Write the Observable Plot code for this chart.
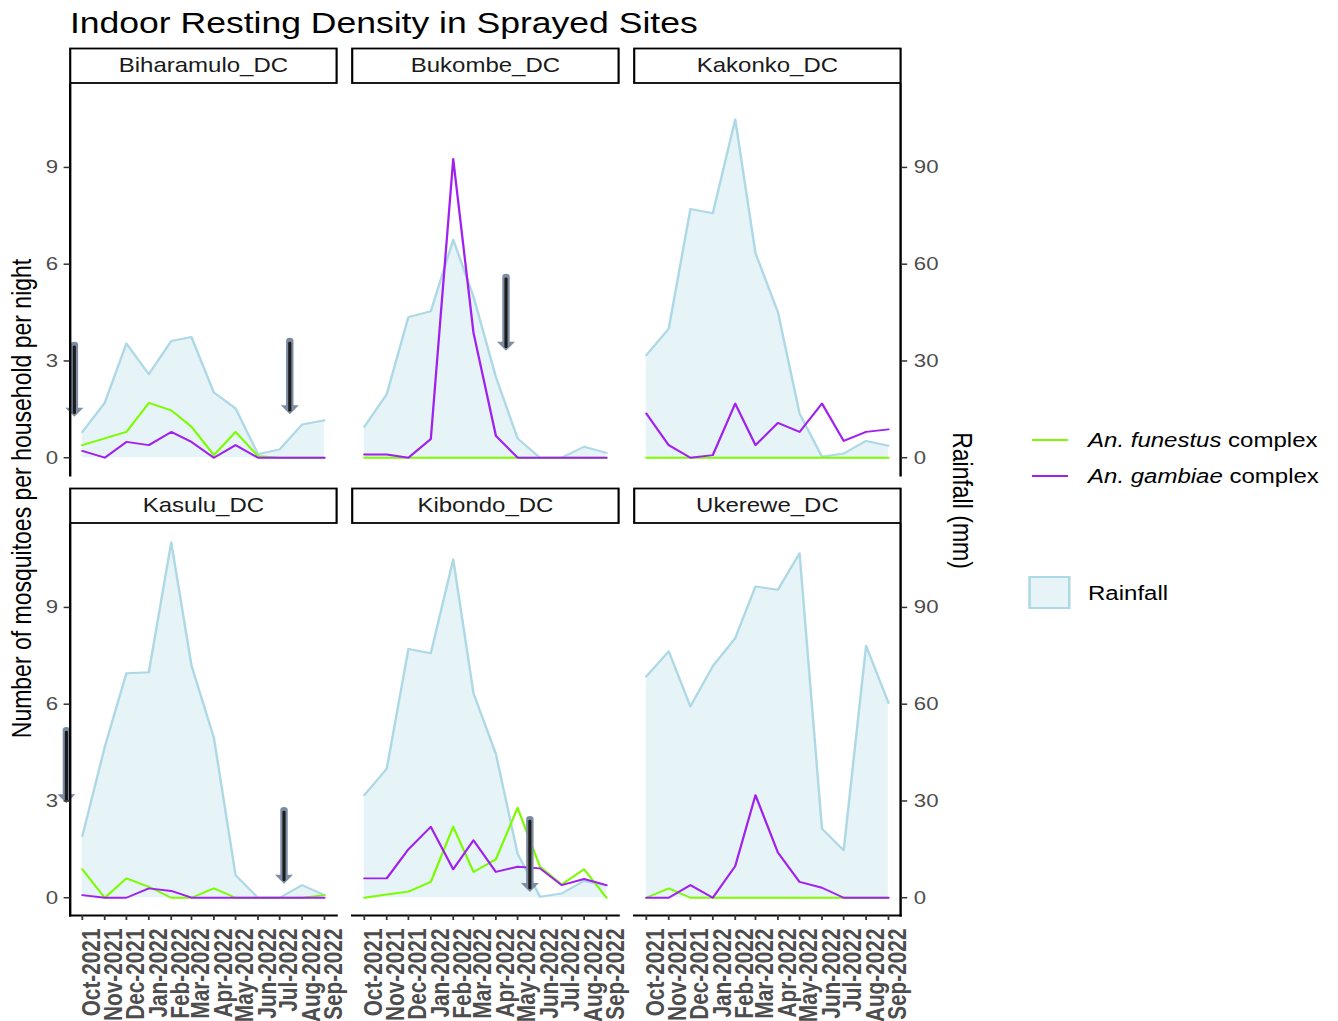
<!DOCTYPE html>
<html>
<head>
<meta charset="utf-8">
<script src="https://cdn.jsdelivr.net/npm/d3@7"></script>
<script src="https://cdn.jsdelivr.net/npm/@observablehq/plot@0.6"></script>
<style>
  html, body { margin: 0; padding: 0; background: #fff; }
  #page {
    position: relative; width: 1115px; height: 1021px;
    transform: scaleX(1.2); transform-origin: 0 0;
    font-family: "Liberation Sans", Arial, Helvetica, sans-serif; color: #000;
  }
  #page svg { position: absolute; left: 0; top: 0; overflow: visible; }
  .abs { position: absolute; white-space: nowrap; }
  #title { left: 58.3px; top: 7.5px; font-size: 29.6px; line-height: 29.6px; }
  .axtitle { width: 600px; height: 23px; line-height: 23px; font-size: 23px; text-align: center; }
  #ylab { left: -281.7px; top: 486.5px; transform: rotate(-90deg); }
  #rlab { left: 501.7px; top: 488.5px; transform: rotate(90deg); }
  .lgline { height: 2px; width: 30px; }
  .lgtext { font-size: 20px; line-height: 20px; }
  #rainkey { box-sizing: border-box; border: 2px solid #ADD8E6; background: rgba(173,216,230,0.3); }
</style>
</head>
<body>
<div id="page">
  <div id="title" class="abs">Indoor Resting Density in Sprayed Sites</div>
  <div id="ylab" class="abs axtitle">Number of mosquitoes per household per night</div>
  <div id="rlab" class="abs axtitle">Rainfall (mm)</div>
  <div class="abs lgline" style="left:860px;top:439px;background:#7CFC00"></div>
  <div class="abs lgtext" style="left:906.7px;top:430px"><i>An. funestus</i> complex</div>
  <div class="abs lgline" style="left:860px;top:475px;background:#A020F0"></div>
  <div class="abs lgtext" style="left:906.7px;top:466px"><i>An. gambiae</i> complex</div>
  <div id="rainkey" class="abs" style="left:856.7px;top:576px;width:35.8px;height:33px"></div>
  <div class="abs lgtext" style="left:906.7px;top:583px">Rainfall</div>
</div>
<script>
// ---------------- data ----------------
const districts = ["Biharamulo_DC", "Bukombe_DC", "Kakonko_DC", "Kasulu_DC", "Kibondo_DC", "Ukerewe_DC"];
const months = ["2021-10-01", "2021-11-01", "2021-12-01", "2022-01-01", "2022-02-01", "2022-03-01",
                "2022-04-01", "2022-05-01", "2022-06-01", "2022-07-01", "2022-08-01", "2022-09-01"];

// rainfall (mm)
const rainBiharamulo = [8.0, 17.0, 35.4, 25.9, 36.2, 37.4, 20.2, 15.3, 1.1, 2.6, 10.3, 11.6];
const rainBukombe    = [9.6, 19.7, 43.6, 45.4, 67.6, 50.0, 25.0, 6.0, 0, 0, 3.4, 1.5];
const rainKakonko    = [31.8, 40.0, 77.1, 75.8, 104.9, 63.4, 45.2, 13.7, 0.3, 1.3, 5.2, 3.7];
const rainKasulu     = [19.1, 46.7, 69.6, 69.9, 110.2, 72.0, 49.6, 7.0, 0, 0, 3.9, 0.8];
const rainKibondo    = [31.8, 40.0, 77.1, 75.8, 104.9, 63.4, 44.6, 13.7, 0.3, 1.3, 5.2, 3.7];
const rainUkerewe    = [68.6, 76.4, 59.3, 71.8, 80.5, 96.5, 95.5, 106.8, 21.4, 14.7, 78.1, 60.4];

// An. funestus complex (mosquitoes / household / night)
const funBiharamulo = [0.39, 0.6, 0.8, 1.7, 1.47, 0.96, 0.08, 0.8, 0.05, 0, 0, 0];
const funBukombe    = [0, 0, 0, 0, 0, 0, 0, 0, 0, 0, 0, 0];
const funKakonko    = [0, 0, 0, 0, 0, 0, 0, 0, 0, 0, 0, 0];
const funKasulu     = [0.88, 0, 0.6, 0.34, 0, 0, 0.29, 0, 0, 0, 0, 0.08];
const funKibondo    = [0, 0.1, 0.19, 0.49, 2.2, 0.8, 1.19, 2.79, 0.96, 0.41, 0.88, 0];
const funUkerewe    = [0, 0.29, 0, 0, 0, 0, 0, 0, 0, 0, 0, 0];

// An. gambiae complex
const gamBiharamulo = [0.21, 0, 0.49, 0.39, 0.8, 0.49, 0, 0.39, 0, 0, 0, 0];
const gamBukombe    = [0.1, 0.1, 0, 0.58, 9.26, 3.88, 0.68, 0, 0, 0, 0, 0];
const gamKakonko    = [1.37, 0.39, 0, 0.08, 1.68, 0.39, 1.08, 0.8, 1.68, 0.52, 0.8, 0.88];
const gamKasulu     = [0.08, 0, 0, 0.29, 0.21, 0, 0, 0, 0, 0, 0, 0];
const gamKibondo    = [0.6, 0.6, 1.5, 2.2, 0.88, 1.78, 0.8, 0.96, 0.91, 0.39, 0.58, 0.39];
const gamUkerewe    = [0, 0, 0.39, 0, 0.98, 3.18, 1.4, 0.49, 0.31, 0, 0, 0];

// spray-date arrows (district, date, arrow top and tip in mosquito units)
const arrowDistricts = ["Biharamulo_DC", "Biharamulo_DC", "Bukombe_DC", "Kasulu_DC", "Kasulu_DC", "Kibondo_DC"];
const arrowDates     = ["2021-09-20", "2022-07-15", "2022-04-15", "2021-09-09", "2022-07-07", "2022-05-18"];
const arrowTop       = [3.5, 3.62, 5.61, 5.2, 2.72, 2.44];
const arrowTip       = [1.27, 1.35, 3.32, 2.93, 0.43, 0.18];

const leftTicks = [0, 3, 6, 9];
const rainTicks = [0, 30, 60, 90];
const RAIN_PER_UNIT = 10; // secondary axis: 10 mm per mosquito unit

// ---------------- build tables ----------------
const parse = d3.utcParse("%Y-%m-%d");
const rainAll = [rainBiharamulo, rainBukombe, rainKakonko, rainKasulu, rainKibondo, rainUkerewe];
const funAll = [funBiharamulo, funBukombe, funKakonko, funKasulu, funKibondo, funUkerewe];
const gamAll = [gamBiharamulo, gamBukombe, gamKakonko, gamKasulu, gamKibondo, gamUkerewe];
const monthDates = months.map(parse);

const rows = [];
districts.forEach((d, i) => monthDates.forEach((m, j) => rows.push({
  district: d, col: i % 3, row: Math.floor(i / 3), date: m,
  rain: rainAll[i][j] / RAIN_PER_UNIT, funestus: funAll[i][j], gambiae: gamAll[i][j]
})));
const strips = districts.map((d, i) => ({district: d, col: i % 3, row: Math.floor(i / 3)}));
const arrows = arrowDistricts.map((d, k) => {
  const i = districts.indexOf(d);
  return {district: d, col: i % 3, row: Math.floor(i / 3), date: parse(arrowDates[k]), top: arrowTop[k], tip: arrowTip[k]};
});

// ggplot-like 5% expansion
const [x0, x1] = d3.extent(monthDates);
const xpad = (x1 - x0) * 0.05;
const ymax = d3.max(rows, r => Math.max(r.rain, r.funestus, r.gambiae));

// ---------------- layout ----------------
const W = 830, H = 1021, mT = 84, mB = 105, mL = 58.3, mR = 79;
const padX = 0.054, padY = 0.1112;
const panelH = (H - mT - mB) * (1 - padY) / (2 - padY);
const STRIP = 35;

const gray = "#7d8ca3";
const headBig = {draw(ctx) { ctx.moveTo(-7.5, 0); ctx.lineTo(7.5, 0); ctx.lineTo(0, 9); ctx.closePath(); }};
const fontFam = '"Liberation Sans", Arial, Helvetica, sans-serif';

const chart = Plot.plot({
  width: W, height: H,
  marginTop: mT, marginBottom: mB, marginLeft: mL, marginRight: mR,
  style: {fontFamily: fontFam, fontSize: "18.5px", background: "transparent", overflow: "visible"},
  x: {type: "utc", domain: [new Date(+x0 - xpad), new Date(+x1 + xpad)]},
  y: {domain: [-0.05 * ymax, 1.05 * ymax]},
  fx: {axis: null, domain: [0, 1, 2], paddingInner: padX, paddingOuter: 0},
  fy: {axis: null, domain: [0, 1], paddingInner: padY, paddingOuter: 0},
  marks: [
    // strip boxes
    Plot.frame({fill: "white", stroke: "black", strokeWidth: 1.8, insetTop: -(STRIP + 1), insetBottom: panelH + 1}),
    Plot.text(strips, {fx: "col", fy: "row", text: "district", frameAnchor: "top", lineAnchor: "middle",
      dy: -(STRIP / 2 + 1), fontSize: 20, fill: "#1a1a1a"}),
    // rainfall
    Plot.areaY(rows, {fx: "col", fy: "row", x: "date", y: "rain", fill: "#ADD8E6", fillOpacity: 0.3}),
    Plot.lineY(rows, {fx: "col", fy: "row", x: "date", y: "rain", stroke: "#ADD8E6", strokeWidth: 2}),
    // mosquitoes
    Plot.lineY(rows, {fx: "col", fy: "row", x: "date", y: "funestus", stroke: "#7CFC00", strokeWidth: 1.9}),
    Plot.lineY(rows, {fx: "col", fy: "row", x: "date", y: "gambiae", stroke: "#A020F0", strokeWidth: 1.9}),
    // arrows
    Plot.arrow(arrows, {fx: "col", fy: "row", x1: "date", x2: "date", y1: "top", y2: "tip", stroke: gray, strokeWidth: 6.2, headLength: 0, insetEnd: 8}),
    Plot.dot(arrows, {fx: "col", fy: "row", x: "date", y: "tip", symbol: headBig, fill: gray, stroke: null, dy: -9}),
    Plot.arrow(arrows, {fx: "col", fy: "row", x1: "date", x2: "date", y1: "top", y2: "tip", stroke: "#1c1c1c", strokeWidth: 2.6, headLength: 0, insetStart: 2, insetEnd: 4}),
    // axis lines
    Plot.frame({anchor: "left", facetAnchor: "left", stroke: "black", strokeWidth: 2}),
    Plot.frame({anchor: "right", facetAnchor: "right", stroke: "black", strokeWidth: 2}),
    Plot.frame({anchor: "bottom", facetAnchor: "bottom", stroke: "black", strokeWidth: 2}),
    // axes
    Plot.axisY({anchor: "left", ticks: leftTicks, tickSize: 5, tickPadding: 5, label: null,
      stroke: "#333333", fill: "#4d4d4d", strokeWidth: 1.5, fontSize: 18.5}),
    Plot.axisY({anchor: "right", ticks: rainTicks.map(v => v / RAIN_PER_UNIT), tickFormat: v => Math.round(v * RAIN_PER_UNIT),
      tickSize: 5, tickPadding: 6, label: null, stroke: "#333333", fill: "#4d4d4d", strokeWidth: 1.5, fontSize: 18.5}),
    Plot.axisX({anchor: "bottom", ticks: monthDates, tickFormat: d3.utcFormat("%b-%Y"), tickRotate: -90,
      textAnchor: "end", lineAnchor: "top", tickSize: 5, tickPadding: 8, label: null,
      stroke: "#333333", fill: "#4d4d4d", strokeWidth: 1.5, fontSize: 20.8, fontWeight: "bold"})
  ]
});
document.getElementById("page").appendChild(chart);
</script>
</body>
</html>
